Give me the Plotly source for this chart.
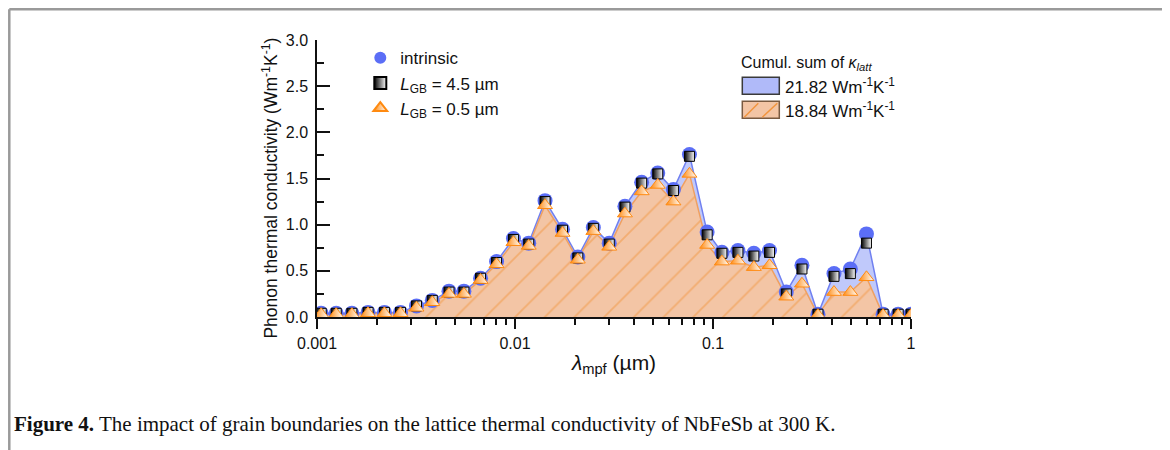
import plotly.graph_objects as go

# mean free path bins (um)
mfp = [0.00105, 0.00125, 0.00150, 0.00181, 0.00219, 0.00264, 0.00318, 0.00382,
       0.00464, 0.00552, 0.00670, 0.00807, 0.00982, 0.01173, 0.01418, 0.01738,
       0.02076, 0.02487, 0.02992, 0.03590, 0.04362, 0.05260, 0.06310, 0.07603,
       0.09340, 0.1109, 0.1336, 0.1608, 0.1929, 0.2344, 0.2813, 0.3388,
       0.4083, 0.4940, 0.5957, 0.7228, 0.8610, 1.0]

intrinsic = [0.04, 0.04, 0.04, 0.05, 0.05, 0.05, 0.12, 0.18, 0.28, 0.28, 0.42, 0.60,
             0.85, 0.80, 1.26, 0.95, 0.65, 0.97, 0.80, 1.20, 1.46, 1.56, 1.38, 1.76,
             0.92, 0.70, 0.72, 0.69, 0.72, 0.27, 0.56, 0.03, 0.47, 0.52, 0.90, 0.03,
             0.03, 0.03]

lgb_45 = [0.04, 0.04, 0.04, 0.05, 0.05, 0.05, 0.12, 0.18, 0.27, 0.27, 0.42, 0.59,
          0.84, 0.79, 1.25, 0.94, 0.64, 0.96, 0.79, 1.19, 1.45, 1.55, 1.37, 1.74,
          0.89, 0.69, 0.70, 0.66, 0.70, 0.25, 0.52, 0.03, 0.44, 0.47, 0.80, 0.03,
          0.03, 0.03]

lgb_05 = [0.03, 0.03, 0.03, 0.04, 0.04, 0.04, 0.10, 0.16, 0.25, 0.25, 0.40, 0.57,
          0.81, 0.77, 1.21, 0.91, 0.62, 0.93, 0.76, 1.12, 1.36, 1.43, 1.25, 1.55,
          0.78, 0.60, 0.61, 0.54, 0.56, 0.22, 0.36, 0.02, 0.27, 0.27, 0.43, 0.02,
          0.02, 0.02]

sum_labels = ["21.82 Wm<sup>-1</sup>K<sup>-1</sup>", "18.84 Wm<sup>-1</sup>K<sup>-1</sup>"]

# the page adds an 8px body margin, so everything is laid out in page pixels minus 8
OFF = 8
W, H = 1162, 442
L, R, T, B = 316.7, 910.7, 39.7, 316.7  # plot area, page pixels


def px(x):
    return (x - L) / (R - L)


def py(y):
    return (B - y) / (B - T)


BLUE = "#5b6ef6"
ORANGE = "#ff8a10"

fig = go.Figure()

# cumulative areas
fig.add_trace(go.Scatter(
    x=mfp, y=intrinsic, mode="lines", fill="tozeroy",
    line=dict(color="#7080f0", width=1.5),
    fillcolor="rgba(140,156,247,0.55)",
    showlegend=False, hoverinfo="skip",
))
fig.add_trace(go.Scatter(
    x=mfp, y=lgb_05, mode="lines", fill="tozeroy",
    line=dict(color="#f0a060", width=1.5),
    fillpattern=dict(shape="/", fgcolor="#f2953e", bgcolor="#f3c5a5",
                     size=21, solidity=0.09),
    showlegend=False, hoverinfo="skip",
))

# markers
fig.add_trace(go.Scatter(
    x=mfp, y=intrinsic, mode="markers", name="intrinsic",
    marker=dict(symbol="circle", size=15, color=BLUE, line=dict(width=0)),
))
fig.add_trace(go.Scatter(
    x=mfp, y=lgb_45, mode="markers", name="<i>L</i><sub>GB</sub> = 4.5 µm",
    marker=dict(symbol="square", size=10, color="#000000",
                gradient=dict(type="horizontal", color="#ffffff"),
                line=dict(width=1, color="#000000")),
))
fig.add_trace(go.Scatter(
    x=mfp, y=lgb_05, mode="markers", name="<i>L</i><sub>GB</sub> = 0.5 µm",
    marker=dict(symbol="triangle-up", size=13, color=ORANGE,
                gradient=dict(type="horizontal", color="#ffffff"),
                line=dict(width=1, color=ORANGE)),
))

font = "Liberation Sans, Arial, sans-serif"
minor_x = [m * 10.0 ** e for e in (-3, -2, -1) for m in range(2, 10)]

fig.update_layout(
    width=W, height=H,
    margin=dict(l=L - OFF, r=W - (R - OFF), t=T - OFF, b=H - (B - OFF)),
    paper_bgcolor="white", plot_bgcolor="white",
    font=dict(family=font, size=16, color="#111111"),
    legend=dict(x=px(360), y=py(40), xanchor="left", yanchor="top",
                bgcolor="rgba(0,0,0,0)", font=dict(size=17), itemsizing="constant",
                tracegroupgap=0),
    xaxis=dict(
        type="log", range=[-3, 0], showgrid=False, zeroline=False,
        showline=True, linecolor="#111111", linewidth=1.5,
        ticks="outside", ticklen=10, tickwidth=1.5, tickcolor="#111111",
        tickvals=[0.001, 0.01, 0.1, 1], ticktext=["0.001", "0.01", "0.1", "1"],
        minor=dict(ticks="outside", ticklen=6, tickwidth=1.5, tickcolor="#111111",
                   tickvals=minor_x, showgrid=False),
        tickfont=dict(size=16), ticklabelstandoff=1,
        title=dict(text="<i>λ</i><sub>mpf</sub> (µm)", font=dict(size=21), standoff=4),
    ),
    yaxis=dict(
        range=[0, 3], showgrid=False, zeroline=False,
        showline=True, linecolor="#111111", linewidth=1.5,
        ticks="inside", ticklen=13, tickwidth=1.5, tickcolor="#111111",
        dtick=0.5, tickformat=".1f",
        minor=dict(ticks="inside", ticklen=7, tickwidth=1.5, tickcolor="#111111",
                   dtick=0.25, showgrid=False),
        tickfont=dict(size=16), ticklabelstandoff=4,
    ),
)

# y-axis title (sits a little below the plot-area centre in the original)
fig.add_annotation(
    xref="paper", yref="paper", x=px(270), y=py(188), xanchor="center", yanchor="middle",
    textangle=-90, showarrow=False,
    text="Phonon thermal conductivity (Wm<sup>-1</sup>K<sup>-1</sup>)",
    font=dict(size=17.5),
)

# second legend: cumulative sums
fig.add_annotation(
    xref="paper", yref="paper", x=px(739), y=py(63), xanchor="left", yanchor="middle",
    showarrow=False, text="Cumul. sum of <i>κ</i><sub><i>latt</i></sub>",
    font=dict(size=16),
)
boxes = [(77, 94, "rgba(176,186,249,1)", "#3a3a3a"), (101, 118, "#f3c5a5", "#7a5a40")]
for (y0, y1, fc, lc), lab in zip(boxes, sum_labels):
    fig.add_shape(type="rect", xref="paper", yref="paper",
                  x0=px(742), x1=px(779), y0=py(y1), y1=py(y0),
                  fillcolor=fc, line=dict(color=lc, width=1.5), layer="above")
    fig.add_annotation(
        xref="paper", yref="paper", x=px(783), y=py((y0 + y1) / 2 + 0.5),
        xanchor="left", yanchor="middle", showarrow=False, text=lab,
        font=dict(size=17),
    )
for x0, x1 in [(744, 758), (762, 777)]:
    fig.add_shape(type="line", xref="paper", yref="paper",
                  x0=px(x0), x1=px(x1), y0=py(117), y1=py(103),
                  line=dict(color="#f2953e", width=1.5), layer="above")

# page frame
frame = dict(type="line", xref="paper", yref="paper",
             line=dict(color="#9a9a9a", width=2.5), layer="above")
fig.add_shape(frame, x0=px(9), x1=px(9), y0=py(9), y1=py(460))
fig.add_shape(frame, x0=px(1164), x1=px(1164), y0=py(9), y1=py(460))
fig.add_shape(frame, x0=px(9), x1=px(1164), y0=py(9), y1=py(9))

# caption
fig.add_annotation(
    xref="paper", yref="paper", x=px(12), y=py(424), xanchor="left", yanchor="middle",
    showarrow=False,
    text="<b>Figure 4.</b> The impact of grain boundaries on the lattice thermal "
         "conductivity of NbFeSb at 300 K.",
    font=dict(family="Liberation Serif, Times New Roman, serif", size=21, color="#111111"),
)

fig.write_html("out.html")
